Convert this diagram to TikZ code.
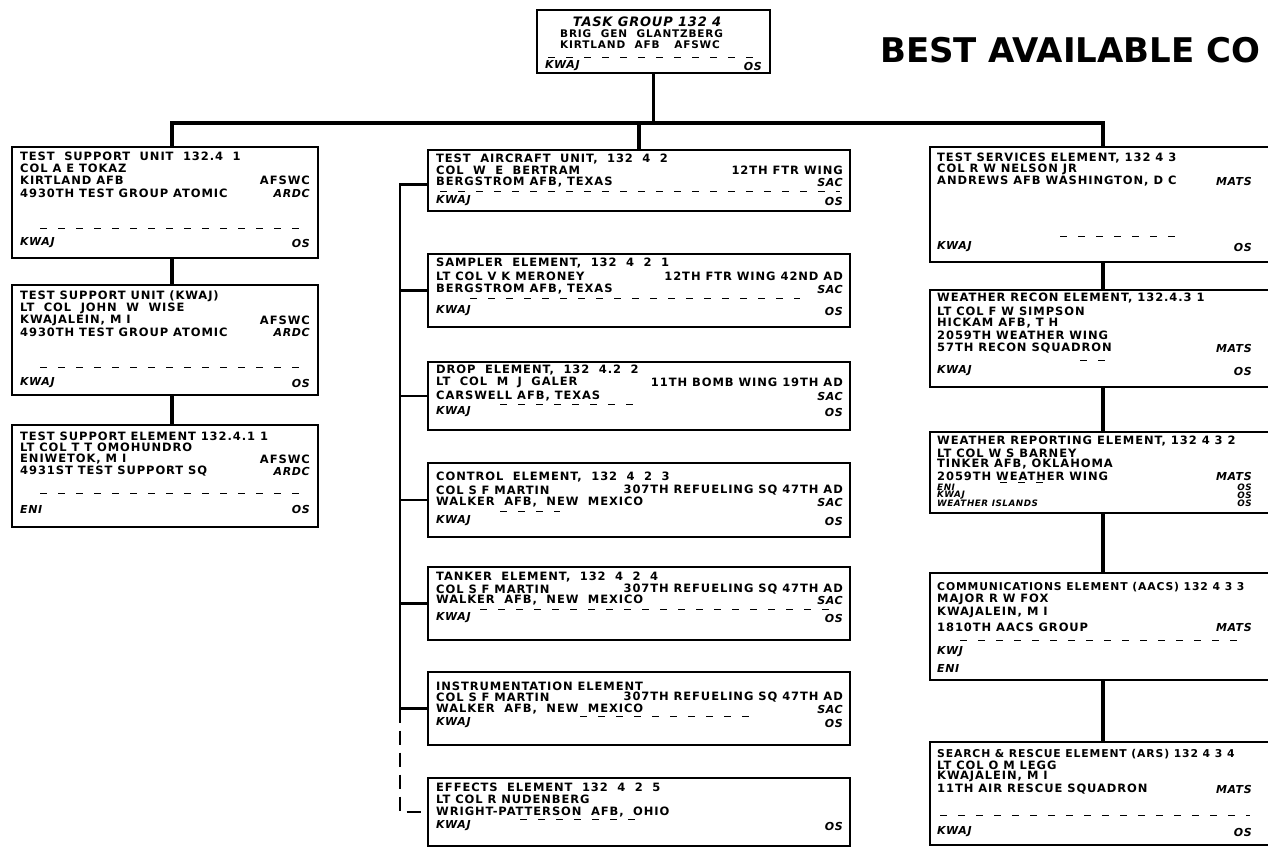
\documentclass[tikz,border=0pt]{standalone}
\usepackage{fontspec}
\usetikzlibrary{fit,calc}
\newfontfamily\tf[LetterSpace=8]{DejaVu Sans Bold}
\newfontfamily\tfi[LetterSpace=6]{DejaVu Sans Bold Oblique}
\newfontfamily\bestfont{DejaVu Sans Bold}
\newcounter{tn}
\newcommand\TX[3]{\stepcounter{tn}\node[#1] (t\arabic{tn}) at (#2) {#3};}
\newcommand\MB[3]{\node[box, fit={(#2) (#3)}] (#1) {};}
\newcommand\widespaces{\spaceskip=9.5pt\relax}
\tikzset{
  box/.style={draw, line width=1.8pt, inner sep=0pt},
  conn/.style={line width=3.2pt},
  tick/.style={line width=2.2pt},
  sep/.style={line width=0.9pt, dash pattern=on 7pt off 11pt},
  tl/.style={font=\tf\fontsize{11.5}{12}\selectfont, anchor=west, inner sep=0pt},
  tw/.style={tl, execute at begin node={\widespaces}},
  tr/.style={tl, anchor=east},
  il/.style={font=\tfi\fontsize{11}{11}\selectfont, anchor=west, inner sep=0pt},
  ir/.style={il, anchor=east},
  sl/.style={tl, font=\tf\fontsize{10.5}{10}\selectfont, execute at begin node={\widespaces}},
  sr/.style={sl, anchor=east},
  si/.style={il, font=\tfi\fontsize{8.8}{9}\selectfont},
  sir/.style={si, anchor=east},
}
\begin{document}
\begin{tikzpicture}[x=1pt,y=-1pt]
\useasboundingbox (0,0) rectangle (1268,848);
\fill[white] (0,0) rectangle (1268,848);
\clip (0,0) rectangle (1268,848);

% heading
\node[font=\bestfont\fontsize{34}{36}\selectfont, anchor=west, inner sep=0pt] (best) at (880,50) {BEST AVAILABLE CO};

% boxes
\MB{top}{537,10}{770,73}
\MB{L1}{12,147}{318,258}
\MB{L2}{12,285}{318,395}
\MB{L3}{12,425}{318,527}
\MB{M1}{428,150}{850,211}
\MB{M2}{428,254}{850,327}
\MB{M3}{428,362}{850,430}
\MB{M4}{428,463}{850,537}
\MB{M5}{428,567}{850,640}
\MB{M6}{428,672}{850,745}
\MB{M7}{428,778}{850,846}
\MB{R1}{930,147}{1290,262}
\MB{R2}{930,290}{1290,387}
\MB{R3}{930,432}{1290,513}
\MB{R4}{930,573}{1290,680}
\MB{R5}{930,742}{1290,845}

% connectors
\coordinate (bl) at (172,123);
\coordinate (br) at (1103,123);
\coordinate (brk) at (400,0);
\draw[conn] (top.south) -- (top.south |- bl);
\draw[conn] (L1.north -| bl) -- (bl) -- (br) -- (R1.north -| br);
\draw[conn] (M1.north) -- (M1.north |- bl);
\draw[conn] (L1.south -| bl) -- (L2.north -| bl);
\draw[conn] (L2.south -| bl) -- (L3.north -| bl);
\draw[conn] (R1.south -| br) -- (R2.north -| br);
\draw[conn] (R2.south -| br) -- (R3.north -| br);
\draw[conn] (R3.south -| br) -- (R4.north -| br);
\draw[conn] (R4.south -| br) -- (R5.north -| br);
\coordinate (m1t) at ($(M1.west)+(0,4)$);
\draw[tick] (m1t) -- (m1t -| brk) -- (M6.west -| brk) -- (M6.west);
\draw[tick] (M2.west -| brk) -- (M2.west);
\draw[tick] (M3.west -| brk) -- (M3.west);
\draw[tick] (M4.west -| brk) -- (M4.west);
\draw[tick] (M5.west -| brk) -- (M5.west);
\draw[tick, dash pattern=on 14pt off 8pt] (M6.west -| brk) -- (M7.west -| brk) -- (M7.west);

% separators
\draw[sep] (548,57) -- (760,57);
\draw[sep] (40,228) -- (310,228);
\draw[sep] (40,367) -- (310,367);
\draw[sep] (40,493) -- (310,493);
\draw[sep] (440,191) -- (840,191);
\draw[sep] (470,298) -- (800,298);
\draw[sep] (500,404) -- (640,404);
\draw[sep] (500,511) -- (560,511);
\draw[sep] (480,609) -- (840,609);
\draw[sep] (580,716) -- (760,716);
\draw[sep] (520,819) -- (640,819);
\draw[sep] (1060,236) -- (1180,236);
\draw[sep] (1080,360) -- (1110,360);
\draw[sep] (1000,482) -- (1050,482);
\draw[sep] (960,640) -- (1240,640);
\draw[sep] (940,815) -- (1250,815);

% top box texts
\TX{il, font=\tfi\fontsize{13}{14}\selectfont, anchor=center}{647,22}{TASK GROUP 132 4}
\TX{sl}{560,34}{BRIG GEN GLANTZBERG}
\TX{sl}{560,45}{KIRTLAND AFB}
\TX{sr}{720,45}{AFSWC}
\TX{il}{545,66}{KWAJ}
\TX{ir}{762,66}{OS}

% left column
\TX{tw}{20,156}{TEST SUPPORT UNIT 132.4 1}
\TX{tl}{20,168}{COL A E TOKAZ}
\TX{tl}{20,180}{KIRTLAND AFB}
\TX{tr}{310,180}{AFSWC}
\TX{tl}{20,193}{4930TH TEST GROUP ATOMIC}
\TX{ir}{310,193}{ARDC}
\TX{il}{20,243}{KWAJ}
\TX{ir}{310,243}{OS}

\TX{tl}{20,296}{TEST SUPPORT UNIT (KWAJ)}
\TX{tw}{20,308}{LT COL JOHN W WISE}
\TX{tl}{20,320}{KWAJALEIN, M I}
\TX{tr}{310,320}{AFSWC}
\TX{tl}{20,332}{4930TH TEST GROUP ATOMIC}
\TX{ir}{310,332}{ARDC}
\TX{il}{20,383}{KWAJ}
\TX{ir}{310,383}{OS}

\TX{tl}{20,436}{TEST SUPPORT ELEMENT 132.4.1 1}
\TX{tl}{20,447}{LT COL T T OMOHUNDRO}
\TX{tl}{20,459}{ENIWETOK, M I}
\TX{tr}{310,459}{AFSWC}
\TX{tl}{20,471}{4931ST TEST SUPPORT SQ}
\TX{ir}{310,471}{ARDC}
\TX{il}{20,509}{ENI}
\TX{ir}{310,509}{OS}

% middle column
\TX{tw}{436,159}{TEST AIRCRAFT UNIT, 132 4 2}
\TX{tw}{436,170}{COL W E BERTRAM}
\TX{tr}{843,170}{12TH FTR WING}
\TX{tl}{436,182}{BERGSTROM AFB, TEXAS}
\TX{ir}{843,182}{SAC}
\TX{il}{436,201}{KWAJ}
\TX{ir}{843,201}{OS}

\TX{tw}{436,263}{SAMPLER ELEMENT, 132 4 2 1}
\TX{tl}{436,276}{LT COL V K MERONEY}
\TX{tr}{843,276}{12TH FTR WING 42ND AD}
\TX{tl}{436,289}{BERGSTROM AFB, TEXAS}
\TX{ir}{843,289}{SAC}
\TX{il}{436,311}{KWAJ}
\TX{ir}{843,311}{OS}

\TX{tw}{436,370}{DROP ELEMENT, 132 4.2 2}
\TX{tw}{436,382}{LT COL M J GALER}
\TX{tr}{843,382}{11TH BOMB WING 19TH AD}
\TX{tl}{436,396}{CARSWELL AFB, TEXAS}
\TX{ir}{843,396}{SAC}
\TX{il}{436,412}{KWAJ}
\TX{ir}{843,412}{OS}

\TX{tw}{436,477}{CONTROL ELEMENT, 132 4 2 3}
\TX{tl}{436,490}{COL S F MARTIN}
\TX{tr}{843,490}{307TH REFUELING SQ 47TH AD}
\TX{tw}{436,502}{WALKER AFB, NEW MEXICO}
\TX{ir}{843,502}{SAC}
\TX{il}{436,521}{KWAJ}
\TX{ir}{843,521}{OS}

\TX{tw}{436,577}{TANKER ELEMENT, 132 4 2 4}
\TX{tl}{436,589}{COL S F MARTIN}
\TX{tr}{843,589}{307TH REFUELING SQ 47TH AD}
\TX{tw}{436,600}{WALKER AFB, NEW MEXICO}
\TX{ir}{843,600}{SAC}
\TX{il}{436,618}{KWAJ}
\TX{ir}{843,618}{OS}

\TX{tl}{436,686}{INSTRUMENTATION ELEMENT}
\TX{tl}{436,697}{COL S F MARTIN}
\TX{tr}{843,697}{307TH REFUELING SQ 47TH AD}
\TX{tw}{436,709}{WALKER AFB, NEW MEXICO}
\TX{ir}{843,709}{SAC}
\TX{il}{436,723}{KWAJ}
\TX{ir}{843,723}{OS}

\TX{tw}{436,787}{EFFECTS ELEMENT 132 4 2 5}
\TX{tl}{436,799}{LT COL R NUDENBERG}
\TX{tw}{436,812}{WRIGHT-PATTERSON AFB, OHIO}
\TX{il}{436,826}{KWAJ}
\TX{ir}{843,826}{OS}

% right column
\TX{tl}{937,158}{TEST SERVICES ELEMENT, 132 4 3}
\TX{tl}{937,169}{COL R W NELSON JR}
\TX{tl}{937,181}{ANDREWS AFB WASHINGTON, D C}
\TX{ir}{1252,181}{MATS}
\TX{il}{937,247}{KWAJ}
\TX{ir}{1252,247}{OS}

\TX{tl}{937,298}{WEATHER RECON ELEMENT, 132.4.3 1}
\TX{tl}{937,311}{LT COL F W SIMPSON}
\TX{tl}{937,323}{HICKAM AFB, T H}
\TX{tl}{937,335}{2059TH WEATHER WING}
\TX{tl}{937,348}{57TH RECON SQUADRON}
\TX{ir}{1252,348}{MATS}
\TX{il}{937,371}{KWAJ}
\TX{ir}{1252,371}{OS}

\TX{tl}{937,441}{WEATHER REPORTING ELEMENT, 132 4 3 2}
\TX{tl}{937,453}{LT COL W S BARNEY}
\TX{tl}{937,464}{TINKER AFB, OKLAHOMA}
\TX{tl}{937,476}{2059TH WEATHER WING}
\TX{ir}{1252,476}{MATS}
\TX{si}{937,487}{ENI}
\TX{sir}{1252,487}{OS}
\TX{si}{937,495}{KWAJ}
\TX{sir}{1252,495}{OS}
\TX{si}{937,503}{WEATHER ISLANDS}
\TX{sir}{1252,503}{OS}

\TX{tl, font=\tf\fontsize{10.8}{12}\selectfont}{937,587}{COMMUNICATIONS ELEMENT (AACS) 132 4 3 3}
\TX{tl}{937,599}{MAJOR R W FOX}
\TX{tl}{937,612}{KWAJALEIN, M I}
\TX{tl}{937,627}{1810TH AACS GROUP}
\TX{ir}{1252,627}{MATS}
\TX{il}{937,652}{KWJ}
\TX{il}{937,668}{ENI}

\TX{tl, font=\tf\fontsize{10.8}{12}\selectfont}{937,754}{SEARCH \& RESCUE ELEMENT (ARS) 132 4 3 4}
\TX{tl}{937,765}{LT COL O M LEGG}
\TX{tl}{937,776}{KWAJALEIN, M I}
\TX{tl}{937,789}{11TH AIR RESCUE SQUADRON}
\TX{ir}{1252,789}{MATS}
\TX{il}{937,832}{KWAJ}
\TX{ir}{1252,832}{OS}
\end{tikzpicture}
\end{document}
